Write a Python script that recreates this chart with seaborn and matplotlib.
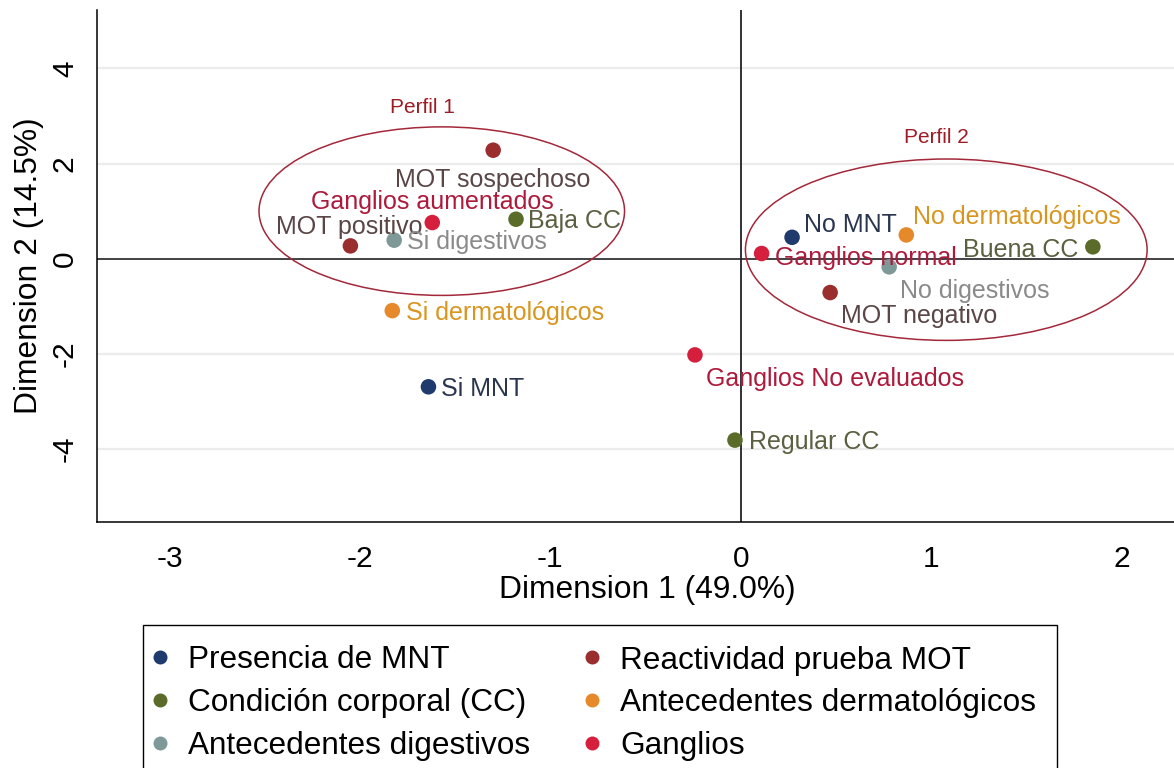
import numpy as np
import pandas as pd
import matplotlib
matplotlib.use("Agg")
import matplotlib.pyplot as plt
import seaborn as sns
from matplotlib.patches import Ellipse, Rectangle

# ---------------- data ----------------
labels = ["No MNT", "Si MNT",
          "MOT sospechoso", "MOT positivo", "MOT negativo",
          "Baja CC", "Buena CC", "Regular CC",
          "No dermatológicos", "Si dermatológicos",
          "Si digestivos", "No digestivos",
          "Ganglios aumentados", "Ganglios normal", "Ganglios No evaluados"]
dim1 = [0.27, -1.64, -1.30, -2.05, 0.47, -1.18, 1.85, -0.03, 0.87, -1.83,
        -1.82, 0.78, -1.62, 0.11, -0.24]
dim2 = [0.45, -2.69, 2.28, 0.27, -0.71, 0.83, 0.25, -3.81, 0.50, -1.09,
        0.39, -0.17, 0.76, 0.11, -2.02]
groups = ["Presencia de MNT", "Presencia de MNT",
          "Reactividad prueba MOT", "Reactividad prueba MOT", "Reactividad prueba MOT",
          "Condición corporal (CC)", "Condición corporal (CC)", "Condición corporal (CC)",
          "Antecedentes dermatológicos", "Antecedentes dermatológicos",
          "Antecedentes digestivos", "Antecedentes digestivos",
          "Ganglios", "Ganglios", "Ganglios"]
group_order = ["Presencia de MNT", "Condición corporal (CC)", "Antecedentes digestivos",
               "Reactividad prueba MOT", "Antecedentes dermatológicos", "Ganglios"]

# profiles (ellipses): centre x, centre y, width, height
profile_names = ["Perfil 1", "Perfil 2"]
profile_cx = [-1.57, 1.08]
profile_cy = [1.00, 0.19]
profile_w = [1.92, 2.11]
profile_h = [3.54, 3.81]
profile_label_x = [-1.67, 1.03]
profile_label_y = [3.18, 2.54]

x_ticks = [-3, -2, -1, 0, 1, 2]
y_ticks = [-4, -2, 0, 2, 4]

# ---------------- styles ----------------
point_colors = {
    "Presencia de MNT": "#1f3a6c",
    "Condición corporal (CC)": "#5a6b2a",
    "Antecedentes digestivos": "#7f9898",
    "Reactividad prueba MOT": "#9a2e2e",
    "Antecedentes dermatológicos": "#e5892b",
    "Ganglios": "#d61f3c",
}
text_colors = {
    "Presencia de MNT": "#2a3550",
    "Condición corporal (CC)": "#5a6040",
    "Antecedentes digestivos": "#8a8a8a",
    "Reactividad prueba MOT": "#5a4646",
    "Antecedentes dermatológicos": "#d8961f",
    "Ganglios": "#ad1a3c",
}
# label placement: offset in pixels (dx, dy up), horizontal alignment
placement = {
    "No MNT": (12, 12, "left"),
    "Si MNT": (13, -2, "left"),
    "MOT sospechoso": (0, -30, "center"),
    "MOT positivo": (-1, 19, "center"),
    "MOT negativo": (11, -23, "left"),
    "Baja CC": (12, -2, "left"),
    "Buena CC": (-14, -3, "right"),
    "Regular CC": (14, -2, "left"),
    "No dermatológicos": (7, 18, "left"),
    "Si dermatológicos": (14, -2, "left"),
    "Si digestivos": (13, -2, "left"),
    "No digestivos": (11, -24, "left"),
    "Ganglios aumentados": (0, 21, "center"),
    "Ganglios normal": (13, -4, "left"),
    "Ganglios No evaluados": (11, -24, "left"),
}

sns.set_style("white")
plt.rcParams["font.family"] = ["Liberation Sans", "DejaVu Sans"]
plt.rcParams["text.color"] = "black"
plt.rcParams["axes.labelcolor"] = "black"

df = pd.DataFrame({"label": labels, "dim1": dim1, "dim2": dim2, "grupo": groups})

fig = plt.figure(figsize=(11.74, 7.68), dpi=100)
W, H = 1174, 768
ax = fig.add_axes([97 / W, 1 - 522 / H, (1197 - 97) / W, (522 - 10) / H])

# grid and reference lines
for yv in y_ticks:
    if yv != 0:
        ax.axhline(yv, color="#ececec", lw=1.6, zorder=0)
ax.axhline(0, color="#333333", lw=1.3, zorder=1)
ax.axvline(0, color="#222222", lw=1.3, zorder=1)

# ellipses
for cx, cy, w, h in zip(profile_cx, profile_cy, profile_w, profile_h):
    ax.add_patch(Ellipse((cx, cy), w, h, fill=False, edgecolor="#a3283a", lw=1.1, zorder=2))
for name, lx, ly in zip(profile_names, profile_label_x, profile_label_y):
    ax.text(lx, ly, name, color="#9e1c26", fontsize=15, ha="center", va="center", zorder=3)

sns.scatterplot(data=df, x="dim1", y="dim2", hue="grupo", hue_order=group_order,
                palette=point_colors, s=125, linewidth=0, ax=ax, zorder=4)

for lab, x, y, g in zip(labels, dim1, dim2, groups):
    dx, dy, ha = placement[lab]
    ax.annotate(lab, (x, y), xytext=(dx, dy), textcoords="offset pixels",
                ha=ha, va="center", fontsize=18, color=text_colors[g], zorder=5)

ax.set_xlim(-3.381, 2.397)
ax.set_ylim(-5.53, 5.225)
ax.set_xticks(x_ticks)
ax.set_yticks(y_ticks)
ax.set_xticklabels([str(t) for t in x_ticks])
ax.set_yticklabels([str(t) for t in y_ticks])
ax.tick_params(axis="both", direction="out", length=8.5, width=1.0, color="black",
               labelsize=21.5, labelcolor="black")
ax.tick_params(axis="x", pad=8.4)
ax.tick_params(axis="y", pad=4.5, labelrotation=90)
for t in ax.get_yticklabels():
    t.set_va("center")
for side in ["top", "right"]:
    ax.spines[side].set_visible(False)
for side in ["left", "bottom"]:
    ax.spines[side].set_color("black")
    ax.spines[side].set_linewidth(1.1)

ax.set_xlabel("Dimension 1 (49.0%)", fontsize=22.9, labelpad=1, color="black")
ax.set_ylabel("Dimension 2 (14.5%)", fontsize=22.9, labelpad=5, color="black")

fs_leg = 22.7
sns.move_legend(ax, "upper left", bbox_to_anchor=(150.5 / W, 1 - 645.5 / H),
                bbox_transform=fig.transFigure, ncol=2, title=None, frameon=False,
                fontsize=fs_leg, markerscale=0.9, borderpad=0, labelspacing=0.4,
                handlelength=0.6, handletextpad=0.58, columnspacing=1.68,
                borderaxespad=0)
for txt in ax.get_legend().get_texts():
    txt.set_color("black")
# legend box frame (its lower edge lies below the figure's edge)
fig.add_artist(Rectangle((143 / W, 1 - 800 / H), (1057 - 143) / W, (800 - 625) / H,
                         transform=fig.transFigure, fill=False, edgecolor="black",
                         lw=1.0))

fig.savefig("out.png", dpi=100)
